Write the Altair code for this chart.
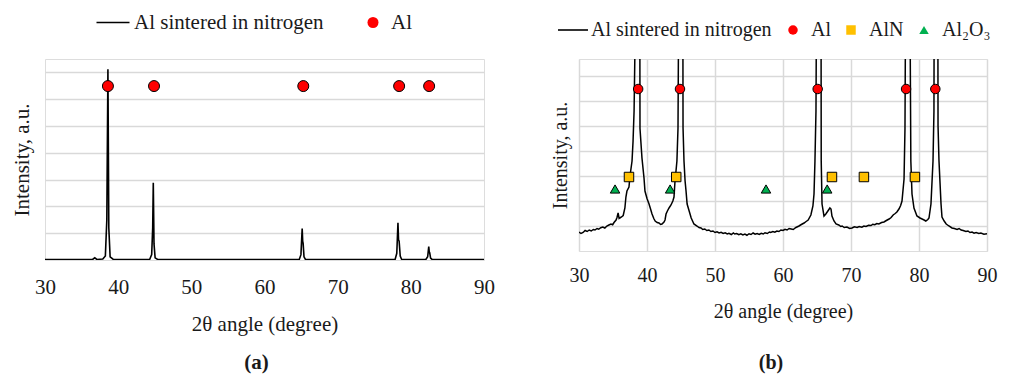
import altair as alt
import pandas as pd

FONT = "Liberation Serif"
TXT = "#1a1a1a"
GRID = "#d9d9d9"

SERIES = "Al sintered in nitrogen"
XTICKS = [30, 40, 50, 60, 70, 80, 90]
YGRID = [1, 2, 3, 4, 5, 6, 7]

# ---------------- panel (a) ----------------
a_x = [30.0, 36.5, 36.8, 37.1, 37.9, 38.25, 38.45, 38.6, 38.72, 38.9,
       39.3, 44.3, 44.58, 44.72, 44.8, 44.9, 45.05, 45.4, 64.75, 64.98,
       65.15, 65.22, 65.28, 65.4, 65.6, 77.85, 78.08, 78.24, 78.32, 78.4,
       78.55, 78.75, 82.05, 82.3, 82.45, 82.52, 82.58, 82.7, 82.9, 90.0]
a_y = [0.02, 0.02, 0.08, 0.02, 0.04, 0.15, 1.5, 7.12, 1.2, 0.12,
       0.03, 0.02, 0.2, 1.2, 2.88, 0.6, 0.08, 0.02, 0.02, 0.2,
       1.17, 0.7, 0.62, 0.12, 0.02, 0.02, 0.25, 1.39, 0.75, 0.7,
       0.15, 0.02, 0.02, 0.12, 0.5, 0.3, 0.27, 0.07, 0.02, 0.02]
a_al_x = [38.6, 44.9, 65.3, 78.4, 82.5]
a_al_y = [6.49, 6.49, 6.49, 6.49, 6.49]

# ---------------- panel (b) ----------------
b_x = [30.0, 30.3, 30.6, 30.9, 31.2, 31.5, 31.8, 32.1, 32.35, 32.65,
       32.9, 33.2, 33.5, 33.8, 34.1, 34.4, 34.7, 34.95, 35.15, 35.45,
       35.6, 35.75, 35.9, 36.0, 36.25, 36.5, 36.75, 36.9, 37.05, 37.35,
       37.5, 37.8, 37.95, 38.1, 38.25, 38.6, 38.95, 38.97, 39.26, 39.56,
       39.7, 40.0, 40.3, 40.5, 40.74, 41.0, 41.2, 41.5, 41.76, 42.0,
       42.2, 42.5, 42.65, 42.8, 43.0, 43.24, 43.53, 43.8, 43.97, 44.1,
       44.4, 44.56, 44.63, 44.95, 45.28, 45.3, 45.44, 45.6, 45.74, 45.9,
       46.2, 46.5, 46.9, 47.35, 47.65, 47.94, 48.2, 48.5, 48.8, 49.1,
       49.4, 49.7, 50.0, 50.3, 50.6, 50.9, 51.2, 51.5, 51.8, 52.05,
       52.4, 52.7, 52.9, 53.2, 53.5, 53.8, 54.1, 54.4, 54.7, 55.0,
       55.3, 55.6, 55.9, 56.2, 56.5, 56.8, 57.1, 57.35, 57.7, 58.0,
       58.2, 58.5, 58.8, 59.1, 59.4, 59.7, 60.0, 60.3, 60.6, 60.9,
       61.2, 61.5, 61.9, 62.35, 62.7, 63.1, 63.4, 63.7, 64.1, 64.4,
       64.56, 64.7, 64.85, 64.9, 65.25, 65.6, 65.62, 65.74, 66.03, 66.3,
       66.6, 66.9, 67.06, 67.2, 67.5, 67.8, 68.2, 68.5, 68.7, 69.0,
       69.4, 69.8, 70.15, 70.5, 70.9, 71.2, 71.6, 71.9, 72.2, 72.6,
       72.95, 73.2, 73.5, 73.8, 74.1, 74.5, 74.85, 75.2, 75.6, 75.9,
       76.2, 76.5, 76.75, 77.05, 77.3, 77.5, 77.8, 77.94, 78.0, 78.35,
       78.7, 78.8, 78.97, 79.26, 79.7, 80.15, 80.45, 80.75, 81.0, 81.3,
       81.47, 81.76, 82.06, 82.2, 82.22, 82.5, 82.78, 82.8, 82.94, 83.24,
       83.38, 83.7, 84.0, 84.4, 84.85, 85.2, 85.6, 85.9, 86.2, 86.5,
       86.9, 87.2, 87.5, 87.8, 88.1, 88.4, 88.8, 89.1, 89.55, 90.0]
b_y = [0.76, 0.70, 0.74, 0.82, 0.78, 0.84, 0.80, 0.86, 0.84, 0.90,
       0.87, 0.93, 0.96, 0.92, 1.00, 1.04, 1.08, 1.05, 1.14, 1.24,
       1.35, 1.52, 1.30, 1.32, 1.36, 1.42, 1.72, 2.16, 2.40, 2.56,
       3.0, 3.6, 4.4, 5.6, 8.5, 40.0, 8.5, 4.9, 3.72, 2.92,
       2.4, 2.1, 1.88, 1.7, 1.48, 1.3, 1.2, 1.14, 1.12, 1.06,
       1.08, 1.16, 1.24, 1.48, 1.6, 1.72, 1.84, 2.0, 2.16, 2.72,
       3.6, 4.92, 8.5, 40.0, 8.5, 4.92, 3.6, 2.8, 2.4, 1.88,
       1.6, 1.32, 1.08, 1.0, 0.94, 0.92, 0.86, 0.88, 0.82, 0.84,
       0.78, 0.80, 0.74, 0.77, 0.72, 0.75, 0.70, 0.73, 0.68, 0.71,
       0.66, 0.72, 0.68, 0.70, 0.65, 0.69, 0.64, 0.68, 0.63, 0.69,
       0.66, 0.72, 0.67, 0.70, 0.66, 0.71, 0.68, 0.73, 0.70, 0.76,
       0.74, 0.78, 0.75, 0.80, 0.78, 0.84, 0.82, 0.87, 0.84, 0.90,
       0.88, 0.86, 0.94, 1.0, 1.06, 1.12, 1.18, 1.24, 1.44, 1.8,
       2.28, 3.6, 5.6, 8.5, 40.0, 8.5, 3.6, 1.88, 1.4, 1.48,
       1.6, 1.72, 1.68, 1.4, 1.2, 1.08, 1.04, 0.98, 1.0, 0.94,
       0.96, 0.90, 0.92, 0.97, 0.94, 0.98, 0.95, 1.0, 0.98, 1.03,
       1.02, 1.07, 1.05, 1.10, 1.08, 1.14, 1.16, 1.22, 1.28, 1.34,
       1.44, 1.50, 1.56, 1.68, 1.82, 2.0, 2.88, 4.92, 8.5, 40.0,
       8.5, 3.6, 2.28, 1.72, 1.4, 1.32, 1.28, 1.24, 1.2, 1.26,
       1.32, 1.88, 3.6, 5.6, 8.5, 40.0, 8.5, 5.0, 3.6, 1.88,
       1.36, 1.2, 1.08, 1.0, 0.92, 0.90, 0.86, 0.90, 0.84, 0.82,
       0.78, 0.80, 0.74, 0.76, 0.71, 0.74, 0.70, 0.72, 0.67, 0.69]
b_al_x = [38.7, 44.85, 65.1, 78.1, 82.4]
b_al_y = [6.48, 6.48, 6.48, 6.48, 6.48]
b_aln_x = [37.35, 44.3, 67.2, 71.9, 79.4]
b_aln_y = [2.96, 2.96, 2.96, 2.96, 2.96]
b_alo_x = [35.3, 43.4, 57.5, 66.5]
b_alo_y = [2.48, 2.48, 2.48, 2.48]

PHASES = ["Al", "AlN", "Al\u2082O\u2083"]
SHAPES = ["circle", "square", "triangle-up"]
FILLS = ["#FF0000", "#FFC000", "#00B050"]


def panel(line_x, line_y, pts, n_phase, w, h, ymax, xgrid, fs, lw, msize,
          leg_line, line_path, line_off, leg_pts, pts_off, col_pad, label,
          lab_pad, tit_pad, ytit_pad, t_off, t_dx):
    ldf = pd.DataFrame({"theta": line_x, "I": line_y, "series": SERIES})
    pdf = pd.DataFrame(pts)
    xax = alt.Axis(values=XTICKS, grid=xgrid, gridColor=GRID, gridWidth=1.5,
                   ticks=False, domain=False, labelFont=FONT, labelFontSize=fs,
                   labelColor=TXT, labelPadding=lab_pad, labelFlush=False,
                   title="2\u03b8 angle (degree)", titleFont=FONT,
                   titleFontSize=fs, titleFontWeight="normal", titleColor=TXT,
                   titlePadding=tit_pad)
    yax = alt.Axis(values=YGRID, labels=False, ticks=False, domain=False,
                   grid=True, gridColor=GRID, gridWidth=1.5,
                   title="Intensity, a.u.", titleFont=FONT, titleFontSize=fs,
                   titleFontWeight="normal", titleColor=TXT,
                   titlePadding=ytit_pad)
    xs = alt.Scale(domain=[30, 90], nice=False, zero=False)
    ys = alt.Scale(domain=[0, ymax], nice=False, zero=False)
    line = alt.Chart(ldf).mark_line(strokeWidth=lw, clip=True,
                                    strokeJoin="miter").encode(
        x=alt.X("theta:Q", scale=xs, axis=xax),
        y=alt.Y("I:Q", scale=ys, axis=yax),
        order="theta:Q",
        stroke=alt.Stroke("series:N",
                          scale=alt.Scale(domain=[SERIES], range=["black"]),
                          legend=alt.Legend(orient="none", legendX=leg_line[0],
                                            legendY=leg_line[1], title=None,
                                            symbolType=line_path,
                                            symbolSize=msize,
                                            symbolStrokeWidth=1.6,
                                            labelFont=FONT, labelFontSize=fs,
                                            labelColor=TXT,
                                            labelOffset=line_off,
                                            labelLimit=600, padding=0)),
    )
    leg = alt.Legend(orient="none", legendX=leg_pts[0], legendY=leg_pts[1],
                     title=None, direction="horizontal",
                     columns=n_phase, symbolSize=msize,
                     symbolStrokeColor="black", symbolStrokeWidth=1,
                     symbolOpacity=1, labelFont=FONT, labelFontSize=fs,
                     labelColor=TXT, labelOffset=pts_off,
                     columnPadding=col_pad, labelLimit=300, padding=0)
    points = alt.Chart(pdf).mark_point(filled=True, stroke="black",
                                       strokeWidth=1, size=msize,
                                       opacity=1).encode(
        x=alt.X("theta:Q", scale=xs, axis=xax),
        y=alt.Y("I:Q", scale=ys, axis=yax),
        shape=alt.Shape("phase:N", scale=alt.Scale(domain=PHASES[:n_phase],
                                                   range=SHAPES[:n_phase]),
                        legend=leg),
        fill=alt.Fill("phase:N", scale=alt.Scale(domain=PHASES[:n_phase],
                                                 range=FILLS[:n_phase]),
                      legend=leg),
    )
    return alt.layer(line, points).properties(
        width=w, height=h,
        title=alt.TitleParams(label, orient="bottom", font=FONT, fontSize=fs,
                              fontWeight="bold", color=TXT, offset=t_off,
                              dx=t_dx, anchor="middle"))


pts_a = {"theta": a_al_x, "I": a_al_y, "phase": ["Al"] * len(a_al_x)}
pts_b = {"theta": b_al_x + b_aln_x + b_alo_x,
         "I": b_al_y + b_aln_y + b_alo_y,
         "phase": ["Al"] * len(b_al_x) + ["AlN"] * len(b_aln_x)
         + ["Al\u2082O\u2083"] * len(b_alo_x)}

pa = panel(a_x, a_y, pts_a, 1, 439, 201, 7.5, False, 21, 1.6, 121,
           (57.5, -47), "M-3.0,0L3.0,0", 10.5, (317.5, -47), 7.5, 9,
           "(a)", 16, 16, 13, 18, -8)
pb = panel(b_x, b_y, pts_b, 3, 408, 192, 7.68, True, 20, 1.5, 90,
           (-16, -39), "M-3.16,0L3.16,0", 8, (204, -39), 8, 10,
           "(b)", 14, 16, 9, 32, -12)

chart = alt.hconcat(pa, pb, spacing=54).resolve_scale(
    shape="independent", fill="independent", stroke="independent",
    x="independent", y="independent"
).properties(
    padding={"left": 2, "top": 3, "right": 0, "bottom": 0}
).configure_view(stroke="black", strokeWidth=1.5).configure(font=FONT)

chart.save("out.html", embed_options={"renderer": "svg", "actions": False})
